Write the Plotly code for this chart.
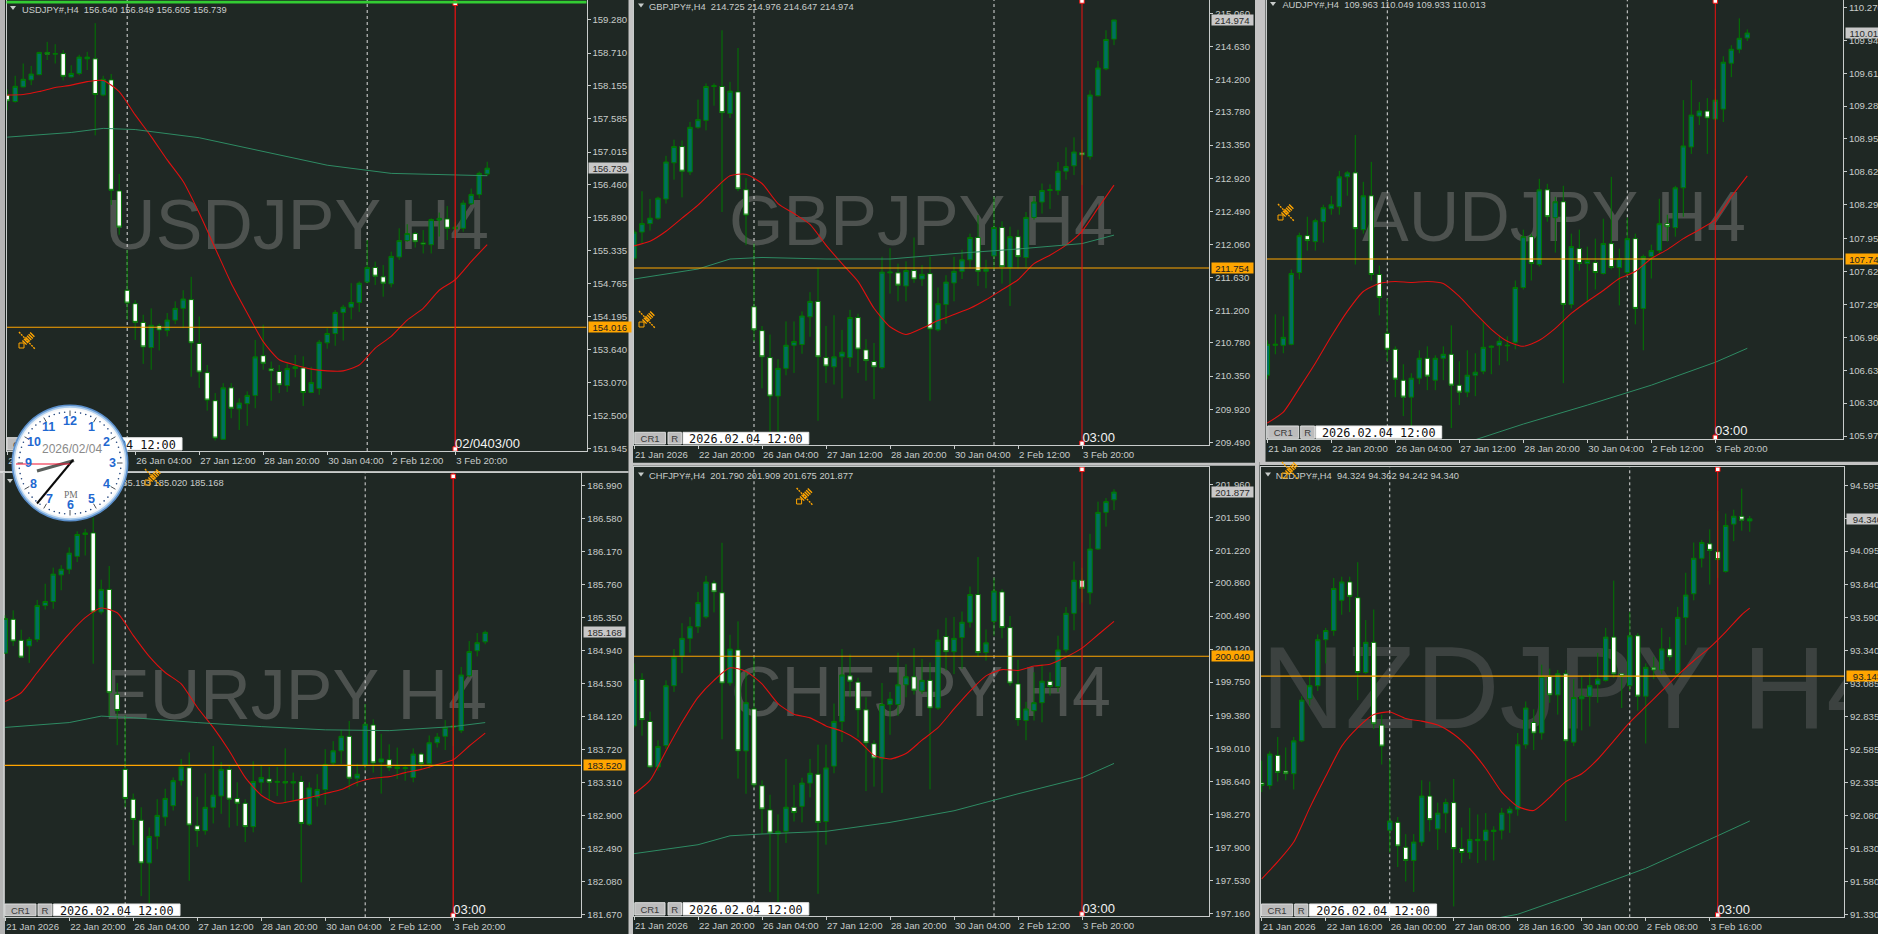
import math
import plotly.graph_objects as go

W, H = 1878, 934
BG = "#1f2824"
BULL = "#006f62"
EDGE = "#007800"
FONT = "Liberation Sans"
TXT = "#c8ccca"

# ---------- values ----------
usd_open = [157.99,157.88,158.13,158.25,158.34,158.72,158.69,158.70,158.30,158.36,158.61,158.61,157.99,158.25,156.35,154.65,154.42,154.10,153.67,154.04,153.96,154.14,154.34,154.49,153.74,153.24,152.76,152.10,152.98,152.62,152.71,152.85,153.53,153.31,153.26,153.02,153.31,153.32,152.90,152.97,153.75,153.91,154.27,154.36,154.44,154.79,155.04,154.88,154.76,155.22,155.50,155.62,155.46,155.43,155.85,155.87,155.70,155.71,156.13,156.29,156.64]
usd_high = [158.09,158.32,158.53,158.49,158.73,158.90,158.86,158.76,158.50,158.68,158.73,159.22,158.32,158.35,156.64,155.34,154.48,154.23,154.34,154.08,154.26,154.46,154.65,154.88,154.20,153.37,152.89,153.06,153.06,152.80,152.92,153.80,154.06,153.43,153.37,153.40,153.54,153.52,153.34,153.80,154.00,154.31,154.40,154.77,154.80,155.51,155.14,155.08,155.31,155.71,155.78,155.65,155.68,155.88,155.98,156.09,155.82,156.19,156.39,156.68,156.849]
usd_low = [157.73,157.86,158.12,158.16,158.33,158.59,158.53,158.24,158.29,158.33,158.42,157.30,157.97,156.11,155.60,154.14,153.80,153.39,153.29,153.62,153.86,154.07,154.00,153.17,152.98,152.59,152.08,152.09,152.46,152.26,152.33,152.63,153.29,152.76,152.89,152.91,153.16,152.67,152.89,152.86,153.65,153.70,153.79,154.15,154.28,154.77,154.74,154.54,154.70,155.17,155.48,155.38,155.28,155.28,155.57,155.51,155.57,155.65,156.11,156.22,156.605]
usd_close = [157.89,158.14,158.26,158.35,158.72,158.69,158.70,158.31,158.36,158.64,158.64,158.00,158.26,156.36,155.73,154.43,154.10,153.68,154.05,153.97,154.14,154.34,154.50,153.75,153.25,152.77,152.12,152.98,152.63,152.72,152.85,153.51,153.40,153.27,153.03,153.31,153.34,152.90,153.07,153.76,153.91,154.27,154.36,154.44,154.77,155.04,154.89,154.77,155.23,155.50,155.62,155.48,155.44,155.86,155.88,155.71,155.73,156.14,156.29,156.65,156.739]
usd_fast = [157.99,158.00,158.05,158.12,158.16,158.22,158.24,158.05,157.65,157.28,156.88,156.51,155.97,155.37,154.77,154.26,153.77,153.46,153.37,153.30,153.27,153.27,153.37,153.66,153.86,154.14,154.34,154.65,154.83,155.14,155.43]
usd_slow = [157.27,157.35,157.42,157.40,157.26,157.02,156.79,156.65,156.62,156.61]
usd_ticks = ["159.280","158.710","158.155","157.585","157.015","156.460","155.890","155.335","154.765","154.195","153.640","153.070","152.500","151.945"]

gbp_open = [211.88,212.22,212.33,212.40,212.65,213.12,213.33,213.00,213.58,213.67,214.11,214.11,213.76,214.04,212.77,211.25,210.94,210.59,210.09,210.45,210.75,210.76,211.12,211.32,210.59,210.47,210.60,210.59,211.11,210.69,210.54,210.46,211.69,211.69,211.52,211.72,211.61,211.68,210.95,211.28,211.56,211.71,211.86,212.15,211.71,211.91,212.28,211.76,212.16,211.89,212.41,212.61,212.76,212.76,213.01,213.08,213.25,213.20,213.99,214.34,214.725]
gbp_high = [212.25,212.75,212.65,212.68,213.21,213.42,213.41,213.65,213.94,214.15,214.15,214.84,214.17,214.61,212.92,212.07,211.00,210.89,210.57,211.06,211.06,211.19,211.44,211.75,211.00,211.14,210.95,211.21,211.16,210.83,210.78,211.90,212.01,211.81,211.84,212.15,211.79,211.90,211.50,211.66,211.90,211.99,212.20,212.44,211.86,212.68,212.36,212.29,212.25,212.48,212.68,212.85,212.84,213.13,213.32,213.45,213.42,214.06,214.44,214.84,214.976]
gbp_low = [211.86,212.07,212.24,212.38,212.59,212.90,212.67,212.96,213.56,213.54,213.86,212.48,213.70,212.75,212.05,210.80,210.19,209.63,209.61,210.36,210.39,210.64,210.86,209.77,210.26,210.24,210.06,210.47,210.39,210.29,210.05,210.44,211.42,211.32,211.32,211.56,211.52,210.03,210.93,211.03,211.32,211.61,211.75,211.52,211.49,211.73,211.55,211.26,211.75,211.76,212.38,212.46,212.52,212.70,212.90,212.96,212.83,213.16,213.98,214.32,214.647]
gbp_close = [212.22,212.33,212.40,212.66,213.13,213.33,213.01,213.58,213.68,214.11,214.12,213.77,214.05,212.78,212.44,210.95,210.60,210.09,210.45,210.75,210.80,211.13,211.32,210.60,210.48,210.60,210.66,211.11,210.70,210.55,210.47,211.70,211.70,211.53,211.72,211.61,211.67,210.96,211.29,211.57,211.71,211.86,212.15,211.71,211.74,212.28,211.77,212.16,211.90,212.41,212.61,212.76,212.77,213.01,213.07,213.26,213.22,214.00,214.35,214.72,214.974]
gbp_fast = [212.04,212.10,212.23,212.40,212.57,212.77,212.95,212.97,212.85,212.59,212.46,212.32,212.05,211.81,211.58,211.23,210.99,210.89,210.97,211.07,211.15,211.23,211.34,211.47,211.60,211.81,211.92,212.05,212.23,212.53,212.83]
gbp_slow = [211.61,211.74,211.87,211.89,211.87,211.87,211.94,212.00,212.07,212.18]
gbp_ticks = ["215.060","214.630","214.200","213.780","213.350","212.920","212.490","212.060","211.630","211.200","210.780","210.350","209.920","209.490"]

aud_open = [106.58,106.88,106.88,106.89,107.61,107.98,107.92,108.12,108.25,108.27,108.57,108.61,108.04,108.38,107.59,107.00,106.84,106.53,106.36,106.55,106.75,106.53,106.75,106.79,106.48,106.41,106.58,106.62,106.86,106.88,106.875,106.91,107.46,107.97,107.69,108.44,108.16,108.32,107.29,107.85,107.70,107.71,107.60,107.90,107.66,107.61,107.95,107.25,107.77,107.83,108.10,108.06,108.46,108.87,109.18,109.23,109.15,109.25,109.71,109.85,109.963]
aud_high = [106.93,107.19,107.17,107.64,108.01,108.17,108.15,108.29,108.38,108.63,108.63,108.99,108.52,108.72,107.68,107.35,106.87,106.69,106.60,106.83,106.87,106.78,106.87,107.08,106.72,106.83,106.80,107.12,106.88,106.98,106.97,107.53,108.04,108.00,108.55,108.50,108.37,108.48,108.00,108.04,107.87,107.95,108.15,108.57,107.85,108.16,108.00,107.79,107.89,108.35,108.19,108.48,109.34,109.54,109.32,109.36,109.45,109.78,109.89,110.16,110.049]
aud_low = [106.54,106.79,106.80,106.88,107.54,107.83,107.83,107.91,108.19,108.19,108.38,107.69,108.00,107.53,107.18,106.72,106.36,106.17,106.06,106.49,106.43,106.43,106.53,106.05,106.28,106.36,106.37,106.59,106.59,106.68,106.72,106.84,107.44,107.53,107.67,108.12,107.81,106.50,107.25,107.63,107.31,107.44,107.59,107.64,107.28,107.57,107.09,106.83,107.55,107.80,107.92,107.97,108.17,108.80,109.09,108.80,108.84,109.12,109.57,109.81,109.933]
aud_close = [106.89,106.89,106.96,107.60,107.98,107.93,108.13,108.26,108.29,108.57,108.61,108.05,108.38,107.59,107.36,106.84,106.54,106.36,106.55,106.75,106.57,106.75,106.79,106.48,106.41,106.58,106.61,106.86,106.87,106.92,106.88,107.46,107.97,107.70,108.44,108.17,108.32,107.29,107.87,107.70,107.73,107.61,107.90,107.66,107.75,107.95,107.25,107.77,107.83,108.10,108.07,108.46,108.88,109.19,109.23,109.16,109.34,109.72,109.85,109.96,110.013]
aud_fast = [106.10,106.21,106.45,106.70,106.97,107.22,107.42,107.50,107.52,107.51,107.52,107.50,107.37,107.20,107.04,106.92,106.87,106.93,107.05,107.20,107.32,107.43,107.55,107.62,107.75,107.84,107.95,108.04,108.14,108.37,108.58]
aud_slow = [None,None,None,None,105.88,106.09,106.28,106.48,106.71,106.85]
aud_ticks = ["110.270","109.940","109.610","109.280","108.950","108.620","108.290","107.950","107.620","107.290","106.960","106.630","106.300","105.970"]

eur_open = [184.91,185.33,185.07,185.00,185.08,185.50,185.55,185.88,185.95,186.11,186.38,186.40,185.42,185.70,184.40,183.47,183.10,182.84,182.31,182.64,182.88,183.02,183.33,183.49,182.77,182.71,183.00,183.14,183.47,183.11,183.05,182.76,183.31,183.35,183.31,183.32,183.30,183.32,182.79,183.12,183.22,183.55,183.70,183.88,183.36,183.52,184.02,183.56,183.59,183.48,183.48,183.37,183.66,183.54,183.80,183.88,183.99,183.95,184.63,184.94,185.05]
eur_high = [185.38,185.44,185.20,185.11,185.57,185.77,185.97,186.00,186.22,186.42,186.45,186.59,185.82,185.99,184.54,184.14,183.17,183.00,182.75,183.10,183.23,183.37,183.60,183.68,183.13,183.42,183.76,183.56,183.52,183.31,183.10,183.57,183.52,183.50,183.50,183.73,183.43,183.39,183.31,183.41,183.72,183.82,183.96,184.07,183.54,184.28,184.09,183.91,183.78,183.74,183.52,183.73,183.68,183.89,183.92,184.08,184.45,184.74,185.06,185.16,185.19]
eur_low = [184.90,185.00,184.85,184.79,185.05,185.45,185.46,185.69,185.89,186.04,186.12,184.78,185.39,184.12,183.77,183.00,182.53,181.90,181.81,182.48,182.77,182.96,183.27,182.09,182.51,182.66,182.80,182.92,182.75,182.77,182.57,182.69,183.17,183.08,183.14,183.05,183.07,182.07,182.77,183.01,183.03,183.52,183.54,183.22,183.26,183.46,183.43,183.17,183.45,183.35,183.33,183.31,183.48,183.48,183.74,183.71,183.76,183.92,184.61,184.87,185.02]
eur_close = [185.34,185.06,184.86,185.08,185.50,185.55,185.89,185.95,186.15,186.38,186.40,185.42,185.70,184.42,184.20,183.11,182.85,182.31,182.64,182.90,183.11,183.33,183.50,182.78,182.71,183.00,183.15,183.47,183.10,183.05,182.76,183.32,183.37,183.31,183.32,183.30,183.32,182.80,183.24,183.22,183.53,183.70,183.88,183.36,183.41,184.03,183.55,183.60,183.49,183.50,183.49,183.66,183.54,183.80,183.87,183.99,184.01,184.64,184.93,185.04,185.168]
eur_fast = [184.31,184.42,184.67,184.92,185.15,185.35,185.47,185.41,185.13,184.87,184.67,184.53,184.24,183.99,183.70,183.37,183.15,183.05,183.08,183.12,183.17,183.22,183.31,183.36,183.38,183.43,183.47,183.53,183.59,183.76,183.92]
eur_slow = [183.99,184.05,184.13,184.11,184.05,184.00,183.96,183.95,184.00,184.05]
eur_ticks = ["186.990","186.580","186.170","185.760","185.350","184.940","184.530","184.120","183.720","183.310","182.900","182.490","182.080","181.670"]

chf_open = [199.26,199.78,199.31,198.80,199.04,199.71,200.04,200.24,200.37,200.48,200.86,200.75,199.74,200.11,198.98,199.45,198.59,198.32,198.05,198.08,198.35,198.36,198.62,198.72,198.19,198.81,199.31,199.82,199.75,199.44,199.06,198.89,199.50,199.50,199.72,199.81,199.65,199.77,199.46,200.26,200.09,200.25,200.42,200.73,200.08,200.43,200.76,200.36,199.73,199.32,199.43,199.52,199.76,199.70,200.11,200.52,200.89,200.75,201.24,201.65,201.79]
chf_high = [199.96,199.85,199.42,199.10,199.77,200.12,200.41,200.48,200.76,200.94,200.89,201.31,200.28,200.43,199.86,200.03,198.65,198.49,198.27,198.89,198.60,198.68,198.89,199.05,199.05,199.51,200.12,200.06,199.80,199.58,199.10,199.74,199.64,200.08,199.95,200.13,200.01,199.97,200.34,200.47,200.48,200.54,200.82,201.15,200.34,200.92,200.79,200.49,200.00,199.53,199.86,199.95,199.86,200.27,200.59,201.10,201.03,201.41,201.77,201.81,201.909]
chf_low = [199.24,199.15,198.79,198.76,199.00,199.64,199.85,200.08,200.30,200.46,200.53,199.11,199.71,198.67,198.50,198.57,198.05,197.40,197.29,197.95,198.19,198.18,198.46,197.38,197.93,198.73,199.08,199.58,199.13,198.53,198.58,198.51,199.16,199.37,199.58,199.61,199.62,198.55,199.44,199.88,199.84,199.90,200.36,200.03,199.99,200.27,200.24,199.71,199.26,199.10,199.32,199.30,199.60,199.64,200.08,200.33,200.64,200.62,201.23,201.49,201.675]
chf_close = [199.78,199.33,198.80,199.03,199.71,200.03,200.24,200.37,200.64,200.87,200.76,199.74,200.12,198.98,199.52,198.60,198.33,198.06,198.08,198.35,198.29,198.62,198.73,198.18,198.79,199.31,199.83,199.76,199.44,199.07,198.90,199.50,199.56,199.72,199.81,199.66,199.77,199.46,200.22,200.09,200.24,200.42,200.73,200.08,200.19,200.77,200.36,199.74,199.33,199.45,199.52,199.76,199.70,200.11,200.52,200.89,200.80,201.24,201.65,201.77,201.877]
chf_fast = [198.50,198.65,198.98,199.30,199.58,199.77,199.91,199.87,199.73,199.51,199.39,199.35,199.26,199.20,199.10,198.93,198.89,198.95,199.10,199.24,199.45,199.65,199.82,199.89,199.88,199.93,199.95,200.03,200.13,200.28,200.43]
chf_slow = [197.83,197.93,198.03,198.05,198.08,198.18,198.31,198.50,198.68,198.84]
chf_ticks = ["201.960","201.590","201.220","200.860","200.490","200.120","199.750","199.380","199.010","198.640","198.270","197.900","197.530","197.160"]

nzd_open = [92.33,92.31,92.54,92.42,92.40,92.65,92.97,93.07,93.42,93.49,93.72,93.86,93.74,93.17,93.40,92.77,91.97,92.03,91.84,91.74,91.88,92.23,91.98,92.10,92.18,91.83,91.80,91.89,91.89,91.96,91.97,92.10,92.13,92.62,92.79,92.71,93.14,93.00,93.16,92.64,92.97,92.99,93.08,93.11,93.44,93.16,93.07,93.45,92.99,93.21,93.19,93.35,93.16,93.59,93.77,94.04,94.15,94.09,93.94,94.30,94.36,94.324]
nzd_high = [92.50,92.57,92.68,92.60,92.68,92.99,93.15,93.46,93.51,93.89,93.90,93.90,94.01,93.57,93.65,92.85,92.51,92.07,91.94,91.94,92.35,92.34,92.18,92.21,92.36,91.99,92.14,92.09,92.10,92.00,92.14,92.15,92.71,92.95,92.89,93.23,93.20,93.19,93.19,93.12,93.14,93.16,93.32,93.51,93.87,93.16,93.63,93.47,93.24,93.29,93.51,93.44,93.67,93.93,94.16,94.18,94.26,94.40,94.38,94.41,94.57,94.362]
nzd_low = [92.26,92.28,92.34,92.35,92.28,92.64,92.92,93.03,93.24,93.45,93.61,93.63,92.96,93.16,92.74,92.47,91.80,91.69,91.58,91.50,91.85,91.96,91.82,91.95,91.39,91.72,91.75,91.72,91.74,91.74,91.90,91.95,92.08,92.59,92.58,92.66,92.94,92.85,92.04,92.61,92.73,92.76,92.94,93.10,93.13,92.90,93.03,92.88,92.63,93.12,93.16,93.26,93.15,93.38,93.72,93.97,93.84,93.89,93.93,94.17,94.25,94.242]
nzd_close = [92.31,92.55,92.41,92.40,92.65,92.96,93.07,93.42,93.49,93.81,93.86,93.75,93.17,93.40,92.78,92.61,92.04,91.85,91.74,91.88,92.23,92.05,92.10,92.18,91.83,91.80,91.90,91.90,91.97,91.97,92.10,92.13,92.62,92.90,92.71,93.14,93.00,93.16,92.65,92.98,92.99,93.07,93.12,93.44,93.16,93.14,93.45,92.99,93.21,93.19,93.35,93.29,93.59,93.76,94.04,94.16,94.10,94.03,94.29,94.36,94.33,94.340]
nzd_fast = [91.60,91.73,91.88,92.14,92.38,92.61,92.75,92.85,92.87,92.82,92.80,92.77,92.70,92.59,92.44,92.26,92.15,92.12,92.22,92.34,92.40,92.51,92.65,92.79,92.91,93.03,93.15,93.26,93.36,93.48,93.61,93.66]
nzd_slow = [None,None,None,None,91.24,91.33,91.50,91.68,91.90,92.04]
nzd_ticks = ["94.595","94.345","94.095","93.840","93.590","93.340","93.085","92.835","92.585","92.335","92.080","91.830","91.580","91.330"]

dates_a = ["21 Jan 2026","22 Jan 20:00","26 Jan 04:00","27 Jan 12:00","28 Jan 20:00","30 Jan 04:00","2 Feb 12:00","3 Feb 20:00"]
dates_b = ["21 Jan 2026","22 Jan 16:00","26 Jan 00:00","27 Jan 08:00","28 Jan 16:00","30 Jan 00:00","2 Feb 08:00","3 Feb 16:00"]
date_bars = [0, 8, 16, 24, 32, 40, 48, 56]
slow_bars = [0, 8, 12, 16, 24, 32, 40, 48, 56, 60]
slow_bars_nzd = [0, 8, 12, 16, 24, 32, 40, 48, 56, 61]

panels = [
 dict(name="USDJPY", o=usd_open, h=usd_high, l=usd_low, c=usd_close, fast=usd_fast, slow=usd_slow, sx=slow_bars, ticks=usd_ticks, dates=dates_a,
      box=(6.5,0,586.5,451), x0=7.2, ylim=(151.899,159.617), level=154.016, last=156.739, vbars=(15,45), red=56,
      head="USDJPY#,H4  156.640 156.849 156.605 156.739", hxy=(19,8.5), tri=(13,8), wm=(297,231), wms=70, wmc="#4d524f",
      stamp="02/0403/00", sxy=(452,442), mk=(3.3,449), lab=(588,629.5), btn=(7,38,41,54,56,182,437.7,450)),
 dict(name="GBPJPY", o=gbp_open, h=gbp_high, l=gbp_low, c=gbp_close, fast=gbp_fast, slow=gbp_slow, sx=slow_bars, ticks=gbp_ticks, dates=dates_a,
      box=(634,0,1209.4,445), x0=634, ylim=(209.455,215.233), level=211.754, last=214.974, vbars=(15,45), red=56,
      head="GBPJPY#,H4  214.725 214.976 214.647 214.974", hxy=(646,5.7), tri=(641,5.5), wm=(921,227.5), wms=70, wmc="#4d524f",
      stamp="03:00", sxy=(1079.4,436), mk=(1,443.3), lab=(1211,1252), btn=(634.8,665.4,668,681.4,683,808.8,432.3,444)),
 dict(name="AUDJPY", o=aud_open, h=aud_high, l=aud_low, c=aud_close, fast=aud_fast, slow=aud_slow, sx=slow_bars, ticks=aud_ticks, dates=dates_a,
      box=(1267,0,1843,439.3), x0=1267.3, ylim=(105.937,110.344), level=107.746, last=110.013, vbars=(15,45), red=56,
      head="AUDJPY#,H4  109.963 110.049 109.933 110.013", hxy=(1279.4,3.8), tri=(1273,4), wm=(1554,223.5), wms=70, wmc="#4d524f",
      stamp="03:00", sxy=(1712,429.3), mk=(1,437.3), lab=(1845,1886), btn=(1267.7,1298.7,1300.7,1314.6,1315.8,1441.7,426,438.3)),
 dict(name="EURJPY", o=eur_open, h=eur_high, l=eur_low, c=eur_close, fast=eur_fast, slow=eur_slow, sx=slow_bars, ticks=eur_ticks, dates=dates_a,
      box=(4.4,473,581.4,917.3), x0=5.2, ylim=(181.637,187.1425), level=183.520, last=185.168, vbars=(15,45), red=56,
      head="EURJPY#,H4  185.052 185.193 185.020 185.168", hxy=(16,481.7), tri=(10,481), wm=(295,701.5), wms=70, wmc="#4d524f",
      stamp="03:00", sxy=(450.2,908.3), mk=(476.3,915.3), lab=(583,624), btn=(4.8,36,38,52,53.4,180,904,915.7)),
 dict(name="CHFJPY", o=chf_open, h=chf_high, l=chf_low, c=chf_close, fast=chf_fast, slow=chf_slow, sx=slow_bars, ticks=chf_ticks, dates=dates_a,
      box=(634,466.7,1209.4,916.3), x0=634, ylim=(197.129,202.161), level=200.040, last=201.877, vbars=(15,45), red=56,
      head="CHFJPY#,H4  201.790 201.909 201.675 201.877", hxy=(646,474.7), tri=(641,474.5), wm=(921,698.5), wms=70, wmc="#4d524f",
      stamp="03:00", sxy=(1079.4,907), mk=(469.3,914), lab=(1211,1252), btn=(634.8,665,668,681.5,683,808.8,902.7,915)),
 dict(name="NZDJPY", o=nzd_open, h=nzd_high, l=nzd_low, c=nzd_close, fast=nzd_fast, slow=nzd_slow, sx=slow_bars_nzd, ticks=nzd_ticks, dates=dates_b,
      box=(1260.6,466.7,1844,917.3), x0=1261.75, ylim=(91.307,94.737), level=93.143, last=94.340, vbars=(16,46), red=57,
      head="NZDJPY#,H4  94.324 94.362 94.242 94.340", hxy=(1272.7,474.7), tri=(1268,474.5), wm=(1576,699), wms=116, wmc="#3c4240",
      stamp="03:00", sxy=(1714.5,908), mk=(469.3,915), lab=(1846,1887), btn=(1261.4,1292.7,1294.7,1307.8,1309.4,1436.6,904,916)),
]
for p in panels:
    assert len(p["o"]) == len(p["h"]) == len(p["l"]) == len(p["c"]), p["name"]

px = lambda x: x / W
py = lambda y: 1 - y / H
shapes, annotations = [], []
fig = go.Figure()


def rect(x0, y0, x1, y1, fill, line=None, lw=0, layer="above", label=None):
    s = dict(type="rect", xref="paper", yref="paper", x0=px(x0), x1=px(x1), y0=py(y1), y1=py(y0),
             fillcolor=fill, line=dict(color=line or "rgba(0,0,0,0)", width=lw), layer=layer)
    if label:
        s["label"] = label
    shapes.append(s)


def seg(x0, y0, x1, y1, color, w=1, dash="solid", layer="above"):
    shapes.append(dict(type="line", xref="paper", yref="paper", x0=px(x0), x1=px(x1), y0=py(y0), y1=py(y1),
                       line=dict(color=color, width=w, dash=dash), layer=layer))


def lab(text, size, color, family=FONT, pos="middle left", pad=0):
    return dict(text=text, font=dict(size=size, color=color, family=family), textposition=pos, padding=pad)


# window chrome
rect(0, 0, 5, H, "#b4b4b4", layer="below")
rect(628.5, 0, 633, H, "#c4c4c4", layer="below")
rect(1255, 0, 1265.5, 462, "#c4c4c4", layer="below")
rect(1255, 462, 1259.5, H, "#c4c4c4", layer="below")
rect(0, 471.3, 628.5, 472.8, "#e8e8e8", layer="below")
rect(633, 462.8, 1255, 465.8, "#c4c4c4", layer="below")
rect(1259.5, 461.8, W, 465, "#c4c4c4", layer="below")

layout_axes = {}
for k, p in enumerate(panels, 1):
    L, T, R, B = p["box"]
    n = len(p["o"])
    bars = list(range(n))
    xr = [(L - p["x0"]) / 8, (R - p["x0"]) / 8]
    yr = list(p["ylim"])
    to_val = lambda y, T=T, B=B, yr=yr: yr[1] - (y - T) / (B - T) * (yr[1] - yr[0])
    to_bar = lambda x, p=p: (x - p["x0"]) / 8
    dom_x = [px(L), px(R)]
    dom_y = [py(B), py(T)]
    xa, ya = f"x{k}", f"y{k}"
    xo, yo = f"x{k+6}", f"y{k+6}"
    layout_axes[f"xaxis{k}"] = dict(domain=dom_x, range=xr, anchor=ya, showgrid=False, zeroline=False, automargin=False, tickangle=0,
        showline=True, mirror=True, linecolor="#c8cccb", linewidth=1, ticks="outside", ticklen=3, tickcolor="#c8cccb",
        tickmode="array", tickvals=date_bars, ticktext=p["dates"], ticklabelposition="outside right",
        ticklabeloverflow="allow", tickfont=dict(family=FONT, size=9.6, color=TXT))
    layout_axes[f"yaxis{k}"] = dict(domain=dom_y, range=yr, anchor=xa, side="right", showgrid=False, zeroline=False, automargin=False,
        showline=True, mirror=True, linecolor="#c8cccb", linewidth=1, ticks="outside", ticklen=3, tickcolor="#c8cccb",
        tickmode="array", tickvals=[float(t) for t in p["ticks"]], ticktext=p["ticks"], ticklabeloverflow="allow",
        tickfont=dict(family=FONT, size=9.6, color=TXT))
    layout_axes[f"xaxis{k+6}"] = dict(domain=dom_x, range=xr, overlaying=xa, anchor=yo, visible=False, rangeslider=dict(visible=False))
    layout_axes[f"yaxis{k+6}"] = dict(domain=dom_y, range=yr, overlaying=ya, anchor=xo, visible=False)

    # watermark and dashed verticals underneath the candles
    fig.add_trace(go.Scatter(x=[to_bar(p["wm"][0])], y=[to_val(p["wm"][1])], mode="text", text=[p["name"] + " H4"],
        textposition="middle center",
        textfont=dict(family=FONT, size=p["wms"], color=p["wmc"]), xaxis=xa, yaxis=ya, hoverinfo="skip", showlegend=False))
    for v in p["vbars"]:
        fig.add_trace(go.Scatter(x=[v, v], y=yr, mode="lines", line=dict(color="#dcdcdc", width=1, dash="3px,3px"),
                                 xaxis=xa, yaxis=ya, hoverinfo="skip", showlegend=False))

    fig.add_trace(go.Candlestick(x=bars, open=p["o"], high=p["h"], low=p["l"], close=p["c"], whiskerwidth=0,
        increasing=dict(fillcolor=BULL, line=dict(color=EDGE, width=1)),
        decreasing=dict(fillcolor="#ffffff", line=dict(color=EDGE, width=1)),
        xaxis=xo, yaxis=yo, hoverinfo="skip", showlegend=False))

    fast_x = list(range(0, n, 2)) + ([n - 1] if (n - 1) % 2 else [])
    fig.add_trace(go.Scatter(x=fast_x, y=p["fast"], mode="lines", line=dict(color="#e01010", width=1.1, shape="spline", smoothing=0.6),
                             xaxis=xo, yaxis=yo, hoverinfo="skip", showlegend=False))
    fig.add_trace(go.Scatter(x=p["sx"], y=p["slow"], mode="lines", line=dict(color="#2e8b63", width=1),
                             xaxis=xo, yaxis=yo, hoverinfo="skip", showlegend=False, connectgaps=False))
    fig.add_trace(go.Scatter(x=xr, y=[p["level"], p["level"]], mode="lines", line=dict(color="#ffa500", width=1.1),
                             xaxis=xo, yaxis=yo, hoverinfo="skip", showlegend=False))
    fig.add_trace(go.Scatter(x=[p["red"], p["red"]], y=yr, mode="lines", line=dict(color="#f01010", width=1.2 if k in (1, 4) else 1),
                             xaxis=xo, yaxis=yo, hoverinfo="skip", showlegend=False))
    fig.add_trace(go.Scatter(x=[p["red"], p["red"]], y=[to_val(p["mk"][0]), to_val(p["mk"][1])], mode="markers", cliponaxis=False,
                             marker=dict(symbol="square", size=4.5, color="#ffffff", line=dict(color="#f01010", width=1)),
                             xaxis=xo, yaxis=yo, hoverinfo="skip", showlegend=False))

    # price tags
    for val, bg, fg in ((p["level"], "#ffa500", "#202020"), (p["last"], "#c8c8c8", "#2a2a2a")):
        annotations.append(dict(xref="paper", x=px(p["lab"][0]), xanchor="left", yref=ya, y=val, yanchor="middle", showarrow=False,
            text=f"{val:.3f}", width=p["lab"][1] - p["lab"][0], height=10, bgcolor=bg, borderpad=0, align="center",
            font=dict(family=FONT, size=9.6, color=fg)))

    # header line, drop arrow and time stamp
    hx, hy = p["hxy"]
    rect(hx, hy - 6, hx + 300, hy + 6, "rgba(0,0,0,0)", label=lab(p["head"], 9.35, TXT))
    tx, ty = p["tri"]
    shapes.append(dict(type="path", xref="paper", yref="paper", layer="above", fillcolor=TXT, line=dict(width=0),
        path=f"M {px(tx-3)} {py(ty-2)} L {px(tx+3)} {py(ty-2)} L {px(tx)} {py(ty+2)} Z"))
    sx_, sy_ = p["sxy"]
    rect(sx_, sy_ - 8, sx_ + 80, sy_ + 8, "rgba(0,0,0,0)", label=lab(p["stamp"], 13, "#f2f2f2"))

    # CR1 / R buttons and date box
    a, b, c, d, e, f, y0, y1 = p["btn"]
    rect(a, y0, b, y1, "#bcbcbc", "#dedede", 1, label=lab("CR1", 9.5, "#3a3a3a", pos="middle center"))
    rect(c, y0, d, y1, "#bcbcbc", "#dedede", 1, label=lab("R", 9.5, "#3a3a3a", pos="middle center"))
    rect(e, y0, f, y1, "#ffffff", "#e8e8e8", 1, label=lab("2026.02.04 12:00", 11.8, "#101010", family="DejaVu Sans Mono", pos="middle center"))

# active-chart bar on the first panel
rect(6.5, 0.8, 586.5, 3.6, "#33cc33")

# pencil glyphs
for cx, cy in ((27, 340), (647, 319), (1286, 212), (153, 477), (804.6, 496), (1290, 470)):
    seg(cx - 8, cy - 8, cx + 8, cy + 9, "#ffa500", 1.4, dash="2px,1px")
    seg(cx - 3, cy + 3, cx + 6, cy - 6, "#ffa500", 6, dash="1.4px,0.8px")
    rect(cx - 8, cy + 3, cx - 3, cy + 8, "rgba(0,0,0,0)", "#ffa500", 1)

# desk clock
CX, CY, RAD = 70, 463, 58.5


def circle(r, fill, line=None, lw=0):
    shapes.append(dict(type="circle", xref="paper", yref="paper", x0=px(CX - r), x1=px(CX + r), y0=py(CY + r), y1=py(CY - r),
                       fillcolor=fill, line=dict(color=line or "rgba(0,0,0,0)", width=lw), layer="above"))


circle(RAD, "#5c90cc")
circle(RAD - 1.6, "#a9cbed")
circle(RAD - 3.2, "#f4f6f8")
circle(RAD - 5, "#ffffff")
for m in range(60):
    a = math.radians(m * 6)
    sn, cs = math.sin(a), -math.cos(a)
    if m % 5 == 0:
        seg(CX + 47 * sn, CY + 47 * cs, CX + 52.5 * sn, CY + 52.5 * cs, "#4a4f55", 1)
    else:
        r = 51
        x, y = CX + r * sn, CY + r * cs
        shapes.append(dict(type="circle", xref="paper", yref="paper", x0=px(x - 0.8), x1=px(x + 0.8), y0=py(y + 0.8), y1=py(y - 0.8),
                           fillcolor="#24467e", line=dict(width=0), layer="above"))
for num in range(1, 13):
    a = math.radians(num * 30)
    annotations.append(dict(xref="paper", yref="paper", x=px(CX + 42 * math.sin(a)), y=py(CY - 42 * math.cos(a)), showarrow=False,
        xanchor="center", yanchor="middle", text=f"<b>{num}</b>", font=dict(family=FONT, size=12.5, color="#1f68d0")))
annotations.append(dict(xref="paper", yref="paper", x=px(72), y=py(449), showarrow=False, xanchor="center", yanchor="middle",
                        text="2026/02/04", font=dict(family=FONT, size=12, color="#8a8a8a")))
annotations.append(dict(xref="paper", yref="paper", x=px(71), y=py(495), showarrow=False, xanchor="center", yanchor="middle",
                        text="PM", font=dict(family="Liberation Serif", size=9.5, color="#6e6e6e")))
seg(CX + 4, CY - 2.5, 37, 471, "#5b5f5c", 3.2)
seg(CX + 3, CY - 3, 37, 503.5, "#0a0a0a", 2)
seg(16, 464, CX, 464, "#f01030", 1.2)

fig.update_layout(width=W, height=H, margin=dict(l=0, r=0, t=0, b=0, pad=0, autoexpand=False), paper_bgcolor=BG, plot_bgcolor="rgba(0,0,0,0)",
                  showlegend=False, hovermode=False, boxgap=0.2, shapes=shapes, annotations=annotations, **layout_axes)
fig.write_html("out.html", config=dict(displayModeBar=False),
               post_script="document.body.style.margin='0';document.body.style.overflow='hidden';")
